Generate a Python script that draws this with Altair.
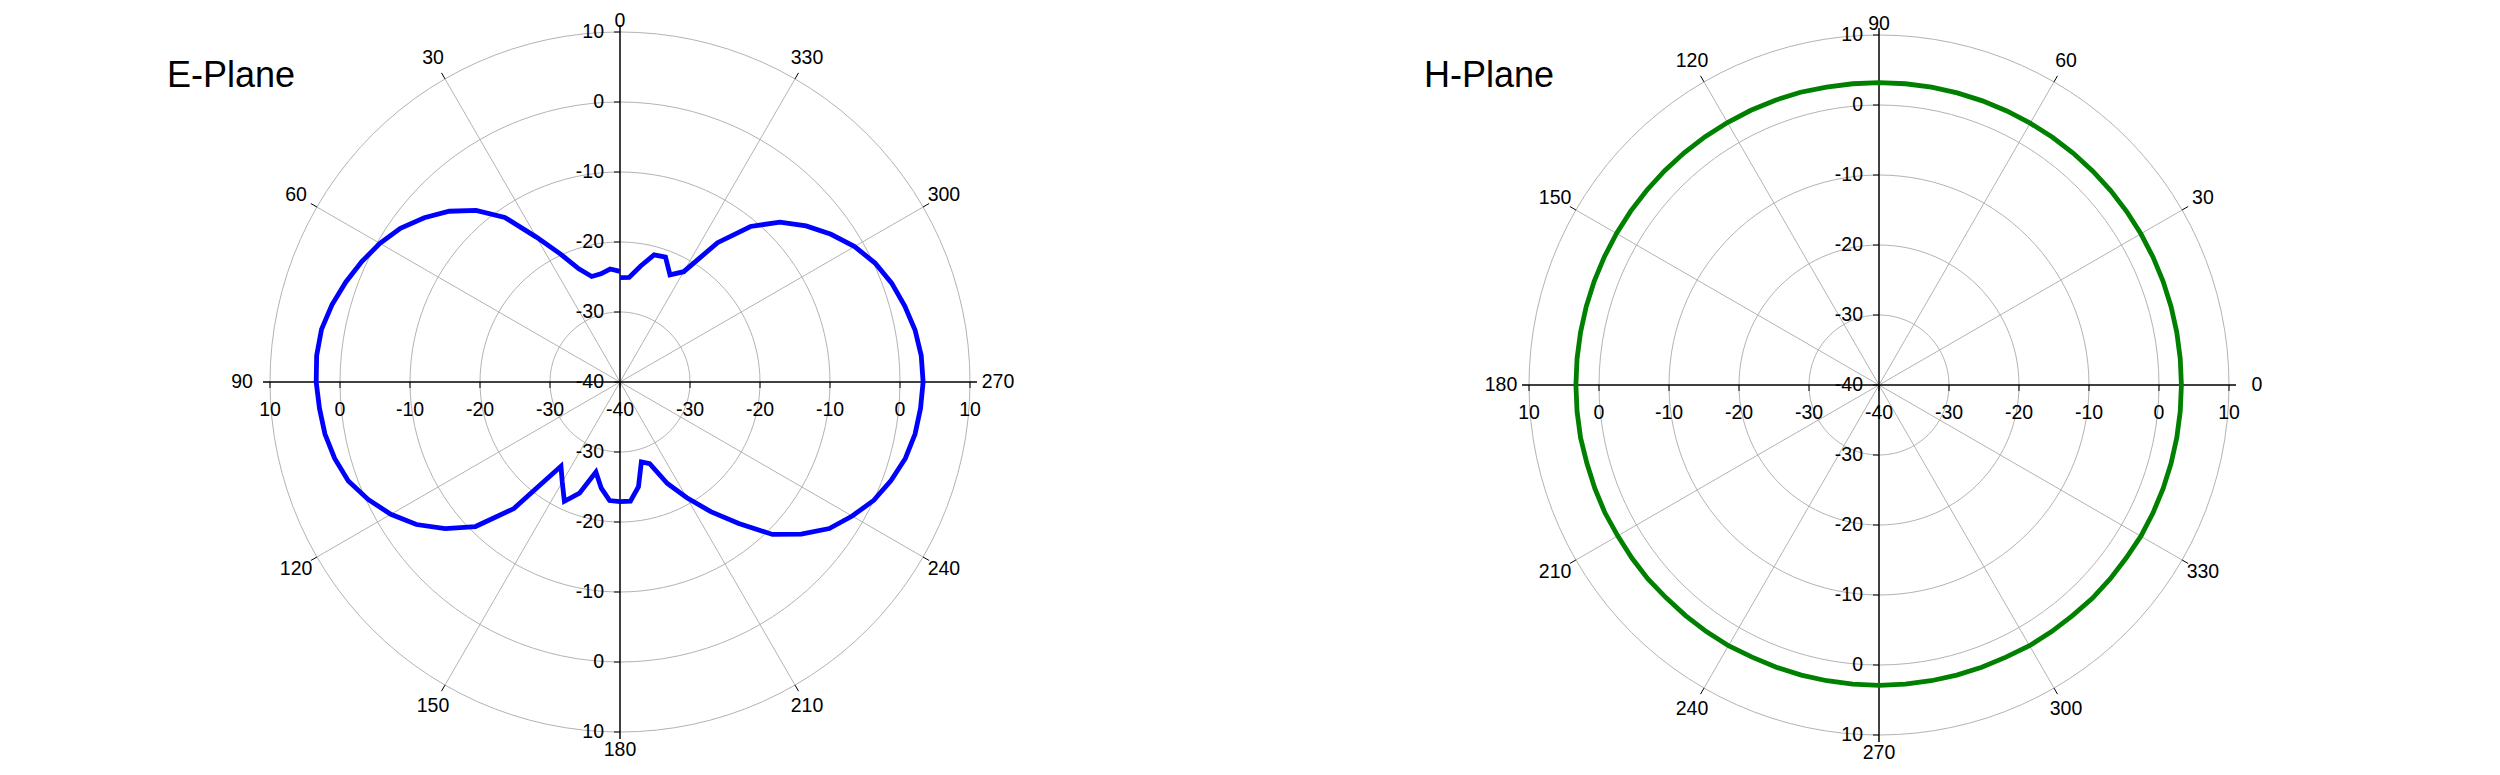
import altair as alt
import pandas as pd

# ---------------- data ----------------
E_ANGLES = list(range(0, 361, 5))
E_GAIN = [
    -24.2, -23.8, -24.3, -24.4, -22.8, -19.8, -16.1, -11.3, -8.0, -5.5,
    -3.5, -1.7, -0.4, 0.7, 1.7, 2.6, 3.3, 3.5, 3.4, 3.1,
    2.8, 2.2, 1.3, -0.3, -2.2, -4.5, -7.4, -10.8, -16.4, -25.3,
    -23.5, -21.2, -23.1, -26.7, -24.6, -23.0, -22.9, -22.9, -24.8, -28.2,
    -27.6, -24.0, -20.9, -17.4, -13.6, -9.2, -6.2, -3.5, -1.7, 0.0,
    1.2, 2.2, 2.8, 3.1, 3.3, 3.2, 2.8, 2.1, 1.3, 0.2,
    -1.3, -3.2, -5.3, -7.7, -11.0, -15.7, -21.8, -23.1, -21.0, -21.2,
    -23.2, -25.0, -25.1,
]
H_ANGLES = list(range(0, 361, 5))
H_GAIN = (
    [3.2] * 21
    + [3.3] * 18
    + [3.2, 3.2, 3.2, 3.1, 3.1]
    + [3.1, 3.0, 3.0, 3.0, 3.0]
    + [2.9] * 11
    + [3.0, 3.0, 3.0, 3.1, 3.1]
    + [3.1, 3.2, 3.2, 3.2, 3.2, 3.2, 3.2, 3.2]
)
assert len(E_GAIN) == len(E_ANGLES) and len(H_GAIN) == len(H_ANGLES)

RING_LEVELS = [-30, -20, -10, 0, 10]
AXIS_LEVELS = [-40, -30, -20, -10, 0, 10]
ANGLE_LABELS = list(range(0, 360, 30))
SPOKE_ANGLES = [30, 60, 120, 150, 210, 240, 300, 330]
TITLES = ["E-Plane", "H-Plane"]

# ---------------- layout / style ----------------
W, H = 2484, 759
PX = 7.0            # pixels per dB
FLOOR = 40          # -40 dB at the centre
R_OUT = 350
R_AX = 357
GRID = "#b3b3b3"
FONT = "Liberation Sans"
FS = 19.5

panels = [
    dict(key="E", title=TITLES[0], cx=620, cy=382, rot=90, color="#0000ff", tx=167,
         angles=E_ANGLES, gain=E_GAIN),
    dict(key="H", title=TITLES[1], cx=1879, cy=385, rot=0, color="#008000", tx=1424,
         angles=H_ANGLES, gain=H_GAIN),
]

XS = alt.Scale(domain=[8, 8 + W], nice=False, zero=False)
YS = alt.Scale(domain=[8, 8 + H], nice=False, zero=False, reverse=True)


def X(f):
    return alt.X(f + ":Q", scale=XS, axis=None)


def Y(f):
    return alt.Y(f + ":Q", scale=YS, axis=None)


COS = "cos(datum.phi * PI / 180)"
SIN = "sin(datum.phi * PI / 180)"

# rings
ring_rows = [dict(panel=p["key"], cx=p["cx"], cy=p["cy"], ring=lv, phi=a)
             for p in panels for lv in RING_LEVELS for a in range(0, 361, 3)]
rings = alt.Chart(pd.DataFrame(ring_rows)).transform_calculate(
    r=f"(datum.ring + {FLOOR}) * {PX}",
).transform_calculate(
    px=f"datum.cx + datum.r * {COS}",
    py=f"datum.cy - datum.r * {SIN}",
    grp="datum.panel + '_' + datum.ring",
).mark_line(stroke=GRID, strokeWidth=1).encode(
    x=X("px"), y=Y("py"), detail="grp:N", order="phi:Q")

# spokes
spoke_rows = [dict(panel=p["key"], cx=p["cx"], cy=p["cy"], phi=a)
              for p in panels for a in SPOKE_ANGLES]
spoke_df = pd.DataFrame(spoke_rows)
spokes = alt.Chart(spoke_df).transform_calculate(
    ex=f"datum.cx + {R_OUT} * {COS}",
    ey=f"datum.cy - {R_OUT} * {SIN}",
).mark_rule(stroke=GRID, strokeWidth=1).encode(
    x=X("cx"), y=Y("cy"), x2="ex:Q", y2="ey:Q")
spoke_ticks = alt.Chart(spoke_df).transform_calculate(
    sx=f"datum.cx + {R_OUT} * {COS}",
    sy=f"datum.cy - {R_OUT} * {SIN}",
    ex=f"datum.cx + {R_AX} * {COS}",
    ey=f"datum.cy - {R_AX} * {SIN}",
).mark_rule(stroke="black", strokeWidth=1).encode(
    x=X("sx"), y=Y("sy"), x2="ex:Q", y2="ey:Q")

# axis lines
ax_rows = [dict(panel=p["key"], cx=p["cx"], cy=p["cy"], h=h) for p in panels for h in (1, 0)]
axes = alt.Chart(pd.DataFrame(ax_rows)).transform_calculate(
    x1=f"datum.cx - datum.h * {R_AX}",
    x2=f"datum.cx + datum.h * {R_AX}",
    y1=f"datum.cy - (1 - datum.h) * {R_AX}",
    y2=f"datum.cy + (1 - datum.h) * {R_AX}",
).mark_rule(stroke="black", strokeWidth=1.5).encode(
    x=X("x1"), y=Y("y1"), x2="x2:Q", y2="y2:Q")

# axis ticks and labels
tick_rows = [dict(panel=p["key"], cx=p["cx"], cy=p["cy"], lv=lv, lab=str(lv), s=s)
             for p in panels for lv in AXIS_LEVELS for s in (1, -1)
             if not (lv == -FLOOR and s == -1)]
tick_df = pd.DataFrame(tick_rows)
tick_base = alt.Chart(tick_df).transform_calculate(
    d=f"datum.s * (datum.lv + {FLOOR}) * {PX}",
)
hticks = tick_base.transform_calculate(
    tx="datum.cx + datum.d", ty1="datum.cy", ty2="datum.cy + 6",
).mark_rule(stroke="black", strokeWidth=1).encode(
    x=X("tx"), y=Y("ty1"), y2="ty2:Q")
vticks = tick_base.transform_calculate(
    ty="datum.cy - datum.d", tx1="datum.cx - 6", tx2="datum.cx",
).mark_rule(stroke="black", strokeWidth=1).encode(
    x=X("tx1"), x2="tx2:Q", y=Y("ty"))
hlabels = tick_base.transform_calculate(
    tx="datum.cx + datum.d", ty="datum.cy + 28",
).mark_text(font=FONT, fontSize=FS, align="center", baseline="middle", color="black").encode(
    x=X("tx"), y=Y("ty"), text="lab:N")
vlabels = tick_base.transform_calculate(
    tx="datum.cx - 16", ty="datum.cy - datum.d",
).mark_text(font=FONT, fontSize=FS, align="right", baseline="middle", color="black").encode(
    x=X("tx"), y=Y("ty"), text="lab:N")

# angle labels
ang_rows = [dict(panel=p["key"], cx=p["cx"], cy=p["cy"], rot=p["rot"], ang=a, lab=str(a))
            for p in panels for a in ANGLE_LABELS]
ang_labels = alt.Chart(pd.DataFrame(ang_rows)).transform_calculate(
    phi="(datum.ang + datum.rot) % 360",
).transform_calculate(
    rl="datum.phi == 90 ? 361 : (datum.phi == 270 ? 368 : ((datum.phi == 0 || datum.phi == 180) ? 378 : 374))",
).transform_calculate(
    tx=f"datum.cx + datum.rl * {COS}",
    ty=f"datum.cy - datum.rl * {SIN}",
).mark_text(font=FONT, fontSize=FS, align="center", baseline="middle", color="black").encode(
    x=X("tx"), y=Y("ty"), text="lab:N")

# pattern curves
curves = []
for p in panels:
    df = pd.DataFrame(dict(ang=p["angles"], gain=p["gain"]))
    df["cx"], df["cy"], df["rot"] = p["cx"], p["cy"], p["rot"]
    curves.append(
        alt.Chart(df).transform_calculate(
            phi="datum.ang + datum.rot",
            r=f"(datum.gain + {FLOOR}) * {PX}",
        ).transform_calculate(
            px=f"datum.cx + datum.r * {COS}",
            py=f"datum.cy - datum.r * {SIN}",
        ).mark_line(stroke=p["color"], strokeWidth=4.8, strokeJoin="miter").encode(
            x=X("px"), y=Y("py"), order="ang:Q")
    )

# titles
title_df = pd.DataFrame([dict(t=p["title"], tx=p["tx"], ty=87) for p in panels])
titles = alt.Chart(title_df).mark_text(
    font=FONT, fontSize=36, align="left", baseline="alphabetic", color="black"
).encode(x=X("tx"), y=Y("ty"), text="t:N")

chart = alt.layer(
    rings, spokes, spoke_ticks, axes, hticks, vticks, *curves,
    hlabels, vlabels, ang_labels, titles,
).properties(
    width=W, height=H,
    autosize=alt.AutoSizeParams(type="none"),
    padding=0,
).configure_view(stroke=None)

chart.save("out.html", embed_options={"renderer": "svg", "actions": False})
